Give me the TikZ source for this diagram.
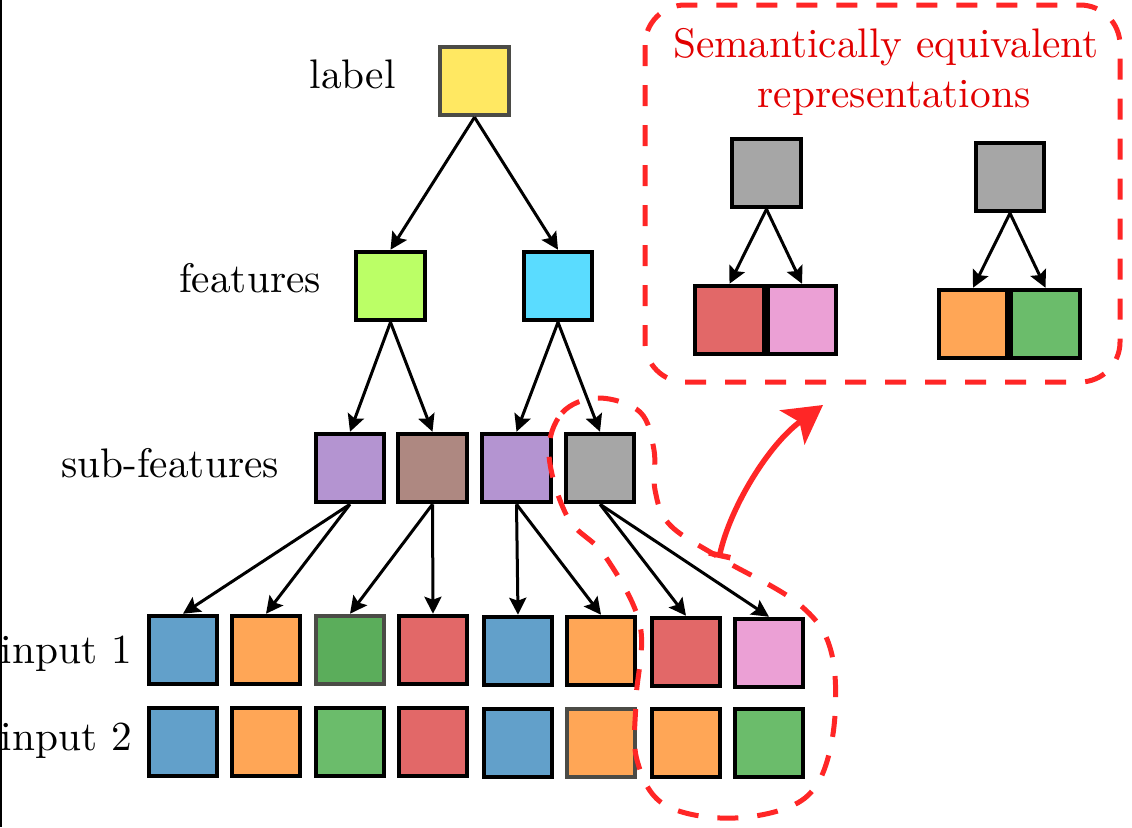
\documentclass[tikz,border=0pt]{standalone}
\usepackage{fontspec}
\setmainfont{lmroman10-regular}[Extension=.otf]
\usetikzlibrary{arrows.meta}
\definecolor{tyellow}{RGB}{255,232,98}
\definecolor{tlime}{RGB}{187,255,102}
\definecolor{tcyan}{RGB}{90,220,255}
\definecolor{tpurple}{RGB}{180,148,209}
\definecolor{tbrown}{RGB}{174,136,129}
\definecolor{tgray}{RGB}{166,166,166}
\definecolor{tblue}{RGB}{98,160,202}
\definecolor{torange}{RGB}{255,166,86}
\definecolor{tgreen}{RGB}{107,188,107}
\definecolor{tgreendark}{RGB}{91,173,91}
\definecolor{tred}{RGB}{226,104,104}
\definecolor{tpink}{RGB}{235,160,213}
\definecolor{dashred}{RGB}{255,38,38}
\definecolor{textred}{RGB}{225,0,0}
\definecolor{softborder}{RGB}{75,75,70}
\begin{document}
\begin{tikzpicture}[x=1pt,y=-1pt,
  box/.style={draw=black,line width=4pt,minimum size=68.5pt,inner sep=0pt},
  greybox/.style={box,draw=softborder},
  lbl/.style={font=\fontsize{41.3pt}{50pt}\selectfont,inner sep=0pt},
  redlbl/.style={lbl,text=textred},
  arr/.style={line width=3pt,-{Stealth[length=17pt,width=17pt,inset=3pt]}},
  reddash/.style={draw=dashred,line width=5pt,dash pattern=on 21pt off 19pt},
  redarrow/.style={draw=dashred,line width=5.5pt,{Bar[width=22pt]}-{Stealth[length=38pt,width=42pt,inset=9pt]}}
]
\useasboundingbox (0,0) rectangle (1132,827);
\draw[line width=1.5pt] (0.75,0) -- (0.75,827);

% labels
\node[lbl,anchor=base east] (tlabel) at (396,88) {label};
\node[lbl,anchor=base east] (tfeat) at (321,292) {features};
\node[lbl,anchor=base east] (tsub) at (279,477) {sub-features};
\node[lbl,anchor=base east] (tin1) at (132,663) {input 1};
\node[lbl,anchor=base east] (tin2) at (132,750) {input 2};

% tree
\node[greybox,fill=tyellow] (L) at (474.5,81) {};
\node[box,fill=tlime] (F1) at (390.5,286) {};
\node[box,fill=tcyan] (F2) at (558,286) {};
\node[box,fill=tpurple] (S1) at (350,468) {};
\node[box,fill=tbrown] (S2) at (432.5,468) {};
\node[box,fill=tpurple] (S3) at (516.5,468) {};
\node[box,fill=tgray] (S4) at (600,468) {};

% input 1
\node[box,fill=tblue] (A1) at (183,650) {};
\node[box,fill=torange] (A2) at (266,650) {};
\node[greybox,fill=tgreendark] (A3) at (350,650) {};
\node[box,fill=tred] (A4) at (433,650) {};
\node[box,fill=tblue] (A5) at (518,651) {};
\node[box,fill=torange] (A6) at (601,651) {};
\node[box,fill=tred] (A7) at (686,652) {};
\node[box,fill=tpink] (A8) at (769,653) {};
% input 2
\node[box,fill=tblue] (B1) at (183,742) {};
\node[box,fill=torange] (B2) at (266,742) {};
\node[box,fill=tgreen] (B3) at (350,742) {};
\node[box,fill=tred] (B4) at (433,742) {};
\node[box,fill=tblue] (B5) at (518,743) {};
\node[greybox,fill=torange] (B6) at (601,743) {};
\node[box,fill=torange] (B7) at (686,743) {};
\node[box,fill=tgreen] (B8) at (769,743) {};

\draw[arr] (L.south) -- (F1.north);
\draw[arr] (L.south) -- (F2.north);
\draw[arr] (F1.south) -- (S1.north);
\draw[arr] (F1.south) -- (S2.north);
\draw[arr] (F2.south) -- (S3.north);
\draw[arr] (F2.south) -- (S4.north);
\draw[arr] (S1.south) -- (A1.north);
\draw[arr] (S1.south) -- (A2.north);
\draw[arr] (S2.south) -- (A3.north);
\draw[arr] (S2.south) -- (A4.north);
\draw[arr] (S3.south) -- (A5.north);
\draw[arr] (S3.south) -- (A6.north);
\draw[arr] (S4.south) -- (A7.north);
\draw[arr] (S4.south) -- (A8.north);

% top-right panel
\draw[reddash,rounded corners=40pt] (645,5) rectangle (1120,382);
\node[redlbl,anchor=base] (t1) at (886,57) {Semantically equivalent};
\node[redlbl,anchor=base] (t2) at (894,107) {representations};

\node[box,fill=tgray] (GA) at (766.5,173) {};
\node[box,fill=tred] (RA) at (729.5,320) {};
\node[box,fill=tpink] (PA) at (802,320) {};
\node[box,fill=tgray] (GB) at (1010,177) {};
\node[box,fill=torange] (OB) at (973,324) {};
\node[box,fill=tgreen] (NB) at (1045.5,324) {};
\draw[arr] (GA.south) -- (RA.north);
\draw[arr] (GA.south) -- (PA.north);
\draw[arr] (GB.south) -- (OB.north);
\draw[arr] (GB.south) -- (NB.north);

% blob around gray sub-feature
\draw[reddash] plot[smooth cycle, tension=0.6] coordinates {
  (549,455) (562,413) (598,398) (640,412) (654,450) (655,490) (670,525)
  (720,558) (800,605) (832,655) (832,740) (805,798) (735,818) (665,805)
  (637,760) (636,700) (640,625) (605,556) (568,518)};

% red curved arrow
\coordinate (rs) at (719,558);
\coordinate (re) at (823,405);
\draw[redarrow] (rs) .. controls (730,508) and (768,445) .. (re);
\end{tikzpicture}
\end{document}
